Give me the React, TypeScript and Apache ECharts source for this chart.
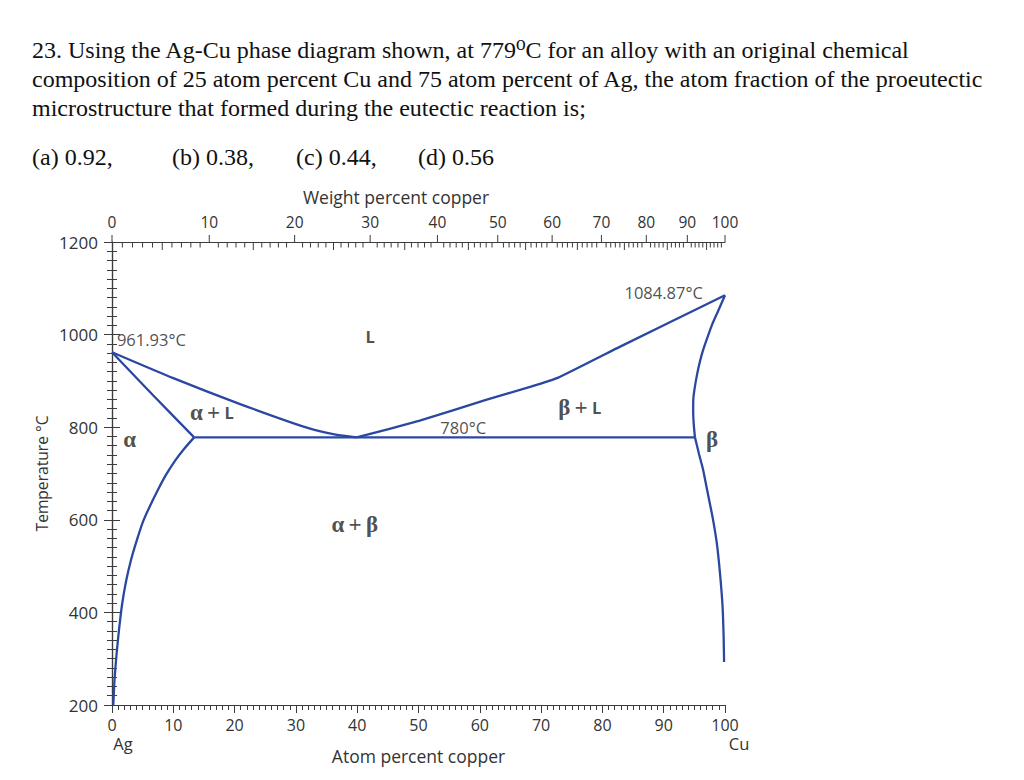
import React, { useEffect, useRef } from "react";
import * as echarts from "echarts";

// ---------- text ----------
const QUESTION_LINES = [
  "23. Using the Ag-Cu phase diagram shown, at 779⁰C for an alloy with an original chemical",
  "composition of 25 atom percent Cu and 75 atom percent of Ag, the atom fraction of the proeutectic",
  "microstructure that formed during the eutectic reaction is;",
];
const ANSWERS = ["(a) 0.92,", "(b) 0.38,", "(c) 0.44,", "(d) 0.56"];

// ---------- axes ----------
const T_MIN = 200;
const T_MAX = 1200;
const T_STEP = 200;
const AT_MIN = 0;
const AT_MAX = 100;
const AT_STEP = 10;
const WT_MINOR_STEP = 1;

// atomic masses used to map weight percent to atom percent (top axis)
const M_CU = 63.55;
const M_AG = 107.87;

// ---------- phase boundaries [atom % Cu, °C] ----------
const LIQUIDUS_ALPHA = [
  [0, 961.93], [10, 906], [20.9, 850], [31.8, 799], [36.5, 784], [39.9, 778],
];
const LIQUIDUS_BETA = [
  [39.9, 778], [50.2, 814], [61.0, 859], [68.2, 887], [72.8, 907], [82.9, 974], [100, 1084.87],
];
const SOLIDUS_ALPHA = [
  [0, 961.93], [6.7, 869], [13.4, 778],
];
const SOLVUS_ALPHA = [
  [13.4, 778], [11.75, 753], [10.3, 728], [8.8, 697], [7.5, 665], [6.2, 630],
  [5.06, 596], [4.08, 557], [3.1, 513], [2.28, 466], [1.63, 416], [1.14, 362],
  [0.73, 308], [0.41, 254], [0.21, 200],
];
const SOLIDUS_BETA = [
  [100, 1084.87], [98.84, 1050], [97.91, 1022], [97.11, 993], [96.46, 968], [95.91, 942],
  [95.43, 913], [95.06, 885], [94.83, 860], [94.81, 833], [94.91, 805], [95.1, 778],
];
const SOLVUS_BETA = [
  [95.1, 778], [95.76, 742], [96.41, 709], [97.06, 666], [98.04, 601], [98.69, 547],
  [99.18, 485], [99.59, 416], [99.77, 351], [99.85, 293],
];
const EUTECTIC = [
  [13.4, 778], [95.1, 778],
];

// ---------- annotations [atom % Cu, °C] ----------
const PHASE_LABELS = [
  { text: "961.93°C", x: 0.8, y: 989, align: "left" },
  { text: "{b|L}", x: 42.1, y: 996, align: "center" },
  { text: "{g|α} {p|+} {b|L}", x: 16.3, y: 831, align: "center" },
  { text: "{g|α}", x: 2.9, y: 773, align: "center" },
  { text: "780°C", x: 57.3, y: 799, align: "center" },
  { text: "{g|β} {p|+} {b|L}", x: 76.3, y: 842, align: "center" },
  { text: "{g|β}", x: 97.9, y: 773, align: "center" },
  { text: "1084.87°C", x: 90.0, y: 1091, align: "center" },
  { text: "{g|α} {p|+} {g|β}", x: 39.6, y: 589, align: "center" },
];

const LINE_COLOR = "#2b48a0";
const AXIS_COLOR = "#3c3c3c";
const LABEL_COLOR = "#333333";
const SANS = "'Open Sans', 'Noto Sans', sans-serif";
const SERIF = "'Liberation Serif', 'DejaVu Serif', serif";

const RICH = {
  g: { fontFamily: SERIF, fontWeight: "bold", fontSize: 23, color: "#222" },
  p: { fontFamily: SERIF, fontWeight: "bold", fontSize: 23, color: "#222" },
  b: { fontFamily: SANS, fontWeight: "bold", fontSize: 16.5, color: "#222" },
};

function wtToAt(w: number): number {
  const cu = w / M_CU;
  const ag = (100 - w) / M_AG;
  return (100 * cu) / (cu + ag);
}

export default function App() {
  const ref = useRef<HTMLDivElement>(null);

  useEffect(() => {
    if (!ref.current) return;
    const chart = echarts.init(ref.current, null, { renderer: "svg" });

    const wtTicks: number[][] = [];
    for (let w = 0; w <= 100; w += WT_MINOR_STEP) {
      wtTicks.push([wtToAt(w), T_MAX, w]);
    }

    const boundary = (data: number[][], smooth: number | boolean) => ({
      type: "line",
      data,
      xAxisIndex: 0,
      yAxisIndex: 0,
      showSymbol: false,
      symbol: "none",
      smooth,
      lineStyle: { color: LINE_COLOR, width: 2.3 },
      z: 3,
    });

    const questionGraphics: any[] = QUESTION_LINES.map((t, i) => ({
      type: "text",
      x: 32,
      y: 50 + i * 29,
      style: {
        text: t,
        fill: "#111",
        fontFamily: SERIF,
        fontSize: 24,
        verticalAlign: "middle",
      },
    }));
    const answerX = [32, 172, 296, 418];
    ANSWERS.forEach((a, i) => {
      questionGraphics.push({
        type: "text",
        x: answerX[i],
        y: 157,
        style: {
          text: a,
          fill: "#111",
          fontFamily: SERIF,
          fontSize: 24,
          verticalAlign: "middle",
        },
      });
    });
    questionGraphics.push({
      type: "text",
      x: 396,
      y: 197,
      style: {
        text: "Weight percent copper",
        fill: LABEL_COLOR,
        fontFamily: SANS,
        fontSize: 17.5,
        align: "center",
        verticalAlign: "middle",
      },
    });

    const option: any = {
      animation: false,
      backgroundColor: "#ffffff",
      grid: { left: 112, top: 242, width: 613, height: 463, containLabel: false },
      graphic: questionGraphics,
      xAxis: [
        {
          type: "value",
          position: "bottom",
          min: AT_MIN,
          max: AT_MAX,
          interval: AT_STEP,
          name: "Atom percent copper",
          nameLocation: "middle",
          nameGap: 42,
          nameMoveOverlap: false,
          nameTextStyle: { color: LABEL_COLOR, fontFamily: SANS, fontSize: 17.5 },
          axisLine: { show: true, lineStyle: { color: AXIS_COLOR, width: 1.2 } },
          axisTick: { show: true, inside: false, length: 8, lineStyle: { color: AXIS_COLOR } },
          minorTick: { show: true, splitNumber: 10, length: 5, lineStyle: { color: AXIS_COLOR } },
          splitLine: { show: false },
          axisLabel: {
            margin: 12,
            color: LABEL_COLOR,
            fontFamily: SANS,
            fontSize: 16,
            lineHeight: 16,
            formatter: (v: number) => {
              if (v === 0) return "0\n{ag|Ag}";
              if (v === 100) return "100\n{cu|Cu}";
              return String(v);
            },
            rich: {
              ag: { color: LABEL_COLOR, fontFamily: SANS, fontSize: 16.5, lineHeight: 21, padding: [0, 0, 0, 22] },
              cu: { color: LABEL_COLOR, fontFamily: SANS, fontSize: 16.5, lineHeight: 21, padding: [0, 0, 0, 28] },
            },
          },
        },
        {
          type: "value",
          position: "top",
          min: AT_MIN,
          max: AT_MAX,
          axisLine: { show: true, lineStyle: { color: AXIS_COLOR, width: 1.2 } },
          axisTick: { show: false },
          axisLabel: { show: false },
          splitLine: { show: false },
        },
      ],
      yAxis: [
        {
          type: "value",
          position: "left",
          min: T_MIN,
          max: T_MAX,
          interval: T_STEP,
          name: "Temperature °C",
          nameLocation: "middle",
          nameGap: 62,
          nameMoveOverlap: false,
          nameTextStyle: { color: LABEL_COLOR, fontFamily: SANS, fontSize: 15.6 },
          axisLine: { show: true, lineStyle: { color: AXIS_COLOR, width: 1.2 } },
          axisTick: { show: true, inside: false, length: 8, lineStyle: { color: AXIS_COLOR } },
          minorTick: { show: true, splitNumber: 10, length: 5, lineStyle: { color: AXIS_COLOR } },
          splitLine: { show: false },
          axisLabel: {
            margin: 14,
            color: LABEL_COLOR,
            fontFamily: SANS,
            fontSize: 17,
            formatter: (v: number) => String(v),
          },
        },
        {
          type: "value",
          position: "right",
          min: T_MIN,
          max: T_MAX,
          interval: T_STEP,
          axisLine: { show: true, lineStyle: { color: AXIS_COLOR, width: 1.2 } },
          axisTick: { show: true, inside: false, length: 8, lineStyle: { color: AXIS_COLOR } },
          minorTick: { show: true, splitNumber: 10, length: 5, lineStyle: { color: AXIS_COLOR } },
          splitLine: { show: false },
          axisLabel: { show: false },
        },
      ],
      series: [
        boundary(LIQUIDUS_ALPHA, 0.2),
        boundary(LIQUIDUS_BETA, 0.12),
        boundary(SOLIDUS_ALPHA, 0.2),
        boundary(SOLVUS_ALPHA, 0.2),
        boundary(SOLIDUS_BETA, 0.2),
        boundary(SOLVUS_BETA, 0.2),
        boundary(EUTECTIC, false),
        {
          type: "custom",
          xAxisIndex: 0,
          yAxisIndex: 0,
          clip: false,
          silent: true,
          data: wtTicks,
          renderItem: (params: any, api: any) => {
            const at = api.value(0);
            const t = api.value(1);
            const w = Math.round(api.value(2));
            const p = api.coord([at, t]);
            const children: any[] = [];
            if (w % 10 === 0) {
              children.push({
                type: "line",
                shape: { x1: p[0], y1: p[1], x2: p[0], y2: p[1] - 7 },
                style: { stroke: AXIS_COLOR, lineWidth: 1 },
              });
              children.push({
                type: "text",
                x: p[0],
                y: p[1] - 20,
                style: {
                  text: String(w),
                  fill: LABEL_COLOR,
                  fontFamily: SANS,
                  fontSize: 15.5,
                  align: "center",
                  verticalAlign: "middle",
                },
              });
            } else {
              const len = w % 5 === 0 ? 8 : 5.5;
              children.push({
                type: "line",
                shape: { x1: p[0], y1: p[1], x2: p[0], y2: p[1] + len },
                style: { stroke: AXIS_COLOR, lineWidth: 1 },
              });
            }
            return { type: "group", children };
          },
          z: 4,
        },
        {
          type: "scatter",
          xAxisIndex: 0,
          yAxisIndex: 0,
          symbolSize: 0,
          silent: true,
          data: PHASE_LABELS.map((l) => ({
            value: [l.x, l.y],
            label: {
              show: true,
              position: "inside",
              formatter: l.text,
              align: l.align,
              color: "#222",
              fontFamily: SANS,
              fontSize: 16.5,
              rich: RICH,
            },
          })),
          label: {
            show: true,
            position: "inside",
            color: "#222",
            fontFamily: SANS,
            fontSize: 16.5,
            rich: RICH,
          },
          z: 5,
        },
      ],
    };

    chart.setOption(option);
    return () => chart.dispose();
  }, []);

  return (
    <div
      ref={ref}
      style={{ position: "fixed", left: 0, top: 0, width: 1024, height: 780, background: "#fff" }}
    />
  );
}
